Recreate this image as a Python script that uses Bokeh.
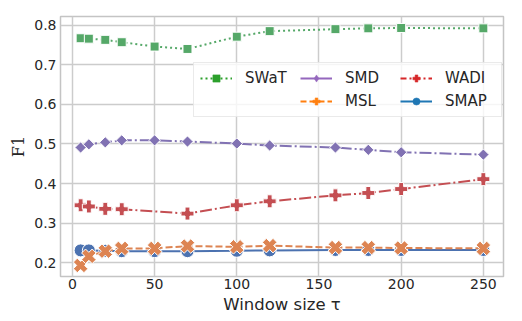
import math
from bokeh.plotting import figure
from bokeh.models import Range1d, FixedTicker, Legend, LegendItem, ColumnDataSource
from bokeh.embed import file_html
from bokeh.resources import INLINE

# ---------------- data ----------------
window = [5, 10, 20, 30, 50, 70, 100, 120, 160, 180, 200, 250]
window_wadi = [5, 10, 20, 30, 70, 100, 120, 160, 180, 200, 250]
swat = [0.767, 0.766, 0.763, 0.757, 0.746, 0.740, 0.771, 0.785, 0.790, 0.792, 0.793, 0.792]
smd = [0.491, 0.499, 0.504, 0.509, 0.509, 0.506, 0.501, 0.496, 0.491, 0.485, 0.479, 0.473]
wadi = [0.345, 0.342, 0.336, 0.335, 0.324, 0.345, 0.355, 0.370, 0.376, 0.386, 0.411]
msl = [0.193, 0.216, 0.229, 0.236, 0.236, 0.242, 0.240, 0.243, 0.238, 0.238, 0.237, 0.236]
smap = [0.231, 0.231, 0.230, 0.229, 0.229, 0.229, 0.230, 0.231, 0.232, 0.232, 0.232, 0.232]
x_ticks = [0, 50, 100, 150, 200, 250]
y_ticks = [0.2, 0.3, 0.4, 0.5, 0.6, 0.7, 0.8]

line_colors = {"SWaT": "#55A868", "SMD": "#8172B3", "WADI": "#C44E52", "MSL": "#DD8452", "SMAP": "#4C72B0"}
legend_colors = {"SWaT": "#2ca02c", "SMD": "#9467bd", "WADI": "#d62728", "MSL": "#ff7f0e", "SMAP": "#1f77b4"}

FONT = "DejaVu Sans"
TXT = "#262626"

p = figure(width=522, height=321, output_backend="svg", toolbar_location=None,
           x_range=Range1d(-7.25, 262.25), y_range=Range1d(0.165, 0.822),
           min_border_left=60, min_border_right=19, min_border_top=16, min_border_bottom=45)
p.background_fill_color = "white"
p.border_fill_color = "white"
p.outline_line_color = "#c4c4c4"
p.outline_line_width = 1.5

for ax in (p.xaxis[0], p.yaxis[0]):
    ax.axis_line_color = None
    ax.major_tick_line_color = None
    ax.minor_tick_line_color = None
    ax.major_tick_out = 0
    ax.major_tick_in = 0
    ax.minor_tick_out = 0
    ax.minor_tick_in = 0
    ax.major_label_text_font = FONT
    ax.major_label_text_font_size = "14px"
    ax.major_label_text_color = TXT
    ax.axis_label_text_color = TXT
    ax.axis_label_text_font_style = "normal"

p.xaxis.ticker = FixedTicker(ticks=x_ticks)
p.yaxis.ticker = FixedTicker(ticks=y_ticks)
p.xaxis.major_label_standoff = 2
p.yaxis.major_label_standoff = 4
p.xaxis.axis_label = "Window size τ"
p.xaxis.axis_label_text_font = FONT
p.xaxis.axis_label_text_font_size = "16.5px"
p.xaxis.axis_label_standoff = 3
p.yaxis.axis_label = "F1"
p.yaxis.axis_label_text_font = "DejaVu Serif"
p.yaxis.axis_label_text_font_size = "16px"
p.yaxis.axis_label_standoff = 3

for g in (p.xgrid[0], p.ygrid[0]):
    g.grid_line_color = "#cccccc"
    g.grid_line_width = 1.5

# ---------------- series ----------------
p.line(window, swat, line_color=line_colors["SWaT"], line_width=2, line_dash="2 3")
p.scatter(window, swat, marker="square", size=9, fill_color=line_colors["SWaT"], line_color="white", line_width=1)

p.line(window, smd, line_color=line_colors["SMD"], line_width=2, line_dash="12 3 2 3")
p.scatter(window, smd, marker="square", angle=math.pi / 4, size=8, fill_color=line_colors["SMD"], line_color="white", line_width=1)

p.line(window_wadi, wadi, line_color=line_colors["WADI"], line_width=2, line_dash="12 3 2 3")
p.scatter(window_wadi, wadi, marker="plus", size=13, fill_color=line_colors["WADI"], line_color="white", line_width=1)

p.line(window, smap, line_color=line_colors["SMAP"], line_width=2)
p.scatter(window, smap, marker="circle", size=13, fill_color=line_colors["SMAP"], line_color="white", line_width=1)

p.line(window, msl, line_color=line_colors["MSL"], line_width=2, line_dash="7 3")
p.scatter(window, msl, marker="plus", angle=math.pi / 4, size=15, fill_color=line_colors["MSL"], line_color="white", line_width=1)

# ---------------- legend (legend-only renderers) ----------------
empty = ColumnDataSource(data=dict(x=[float("nan")], y=[float("nan")]))

def legend_pair(name, dash, marker, angle=0.0):
    c = legend_colors[name]
    l = p.line("x", "y", source=empty, line_color=c, line_width=2, line_dash=dash)
    s = p.scatter("x", "y", source=empty, marker=marker, angle=angle, size=8, fill_color=c, line_color=c, line_width=0.5)
    return [l, s]

blank = p.scatter("x", "y", source=empty, size=1, fill_alpha=0, line_alpha=0)

items = [
    LegendItem(label="SWaT", renderers=legend_pair("SWaT", "2 3", "square")),
    LegendItem(label=" ", renderers=[blank]),
    LegendItem(label="SMD", renderers=legend_pair("SMD", "solid", "diamond")),
    LegendItem(label="MSL", renderers=legend_pair("MSL", "6 3", "plus", math.pi / 4)),
    LegendItem(label="WADI", renderers=legend_pair("WADI", "6 3 2 3", "plus")),
    LegendItem(label="SMAP", renderers=legend_pair("SMAP", "solid", "circle")),
]
legend = Legend(items=items, ncols=3, location=(133, 159),
                label_text_font=FONT, label_text_font_size="15px", label_text_color=TXT,
                glyph_width=32, glyph_height=18, label_height=18, label_width=50, label_standoff=13,
                spacing=5, padding=6, margin=0,
                border_line_color="#d6d6d6", border_line_width=1,
                background_fill_color="white", background_fill_alpha=0.8)
p.add_layout(legend, "center")

open("out.html", "w").write(file_html(p, INLINE))
